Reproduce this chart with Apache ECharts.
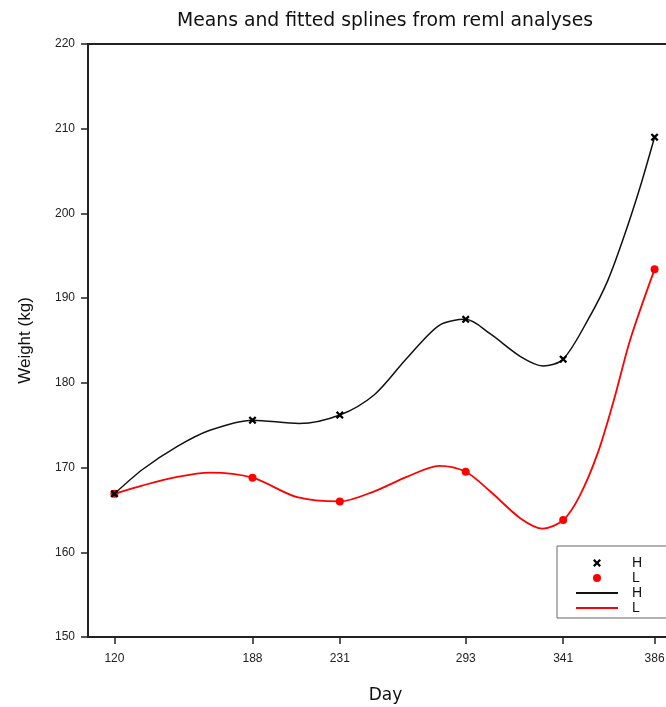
<!DOCTYPE html>
<html>
<head>
<meta charset="utf-8">
<script src="https://cdn.jsdelivr.net/npm/echarts@6/dist/echarts.min.js"></script>
<style>
html,body{margin:0;padding:0;background:#fff;}
#chart{width:666px;height:707px;}
</style>
</head>
<body>
<div id="chart"></div>
<script>
// Means (observed points)
var days = [120, 188, 231, 293, 341, 386];
var hMeans = [166.9, 175.6, 176.2, 187.5, 182.8, 209.0];
var lMeans = [166.9, 168.8, 166.0, 169.5, 163.8, 193.4];

// Fitted spline curves
var hSplineDays = [120, 134, 151, 167, 188, 211, 231, 248, 264, 280, 293, 305, 320, 331, 341, 354, 363, 371, 379, 386];
var hSplineWeights = [166.9, 169.8, 172.5, 174.4, 175.6, 175.2, 176.2, 178.6, 182.9, 186.8, 187.5, 185.8, 183.1, 182.0, 182.8, 187.8, 192.1, 197.3, 203.2, 209.0];
var lSplineDays = [120, 134, 151, 167, 188, 210, 231, 248, 264, 280, 293, 305, 320, 331, 341, 349, 358, 366, 374, 386];
var lSplineWeights = [166.9, 167.9, 168.9, 169.4, 168.8, 166.5, 166.0, 167.2, 168.9, 170.2, 169.5, 167.2, 164.0, 162.8, 163.8, 166.6, 171.7, 178.0, 185.1, 193.4];

// Tick labels
var xTickDays = [120, 188, 231, 293, 341, 386];
var yTicks = [150, 160, 170, 180, 190, 200, 210, 220];

function pairs(xs, ys) {
  return xs.map(function (x, i) { return [x, ys[i]]; });
}

var FONT = "'Liberation Sans', Arial, sans-serif";
var WIDE = "'DejaVu Sans', 'Liberation Sans', sans-serif";
var crossPath = 'path://M0,2L2,0L5,3L8,0L10,2L7,5L10,8L8,10L5,7L2,10L0,8L3,5Z';

var chart = echarts.init(document.getElementById('chart'), null, {renderer: 'canvas'});
chart.setOption({
  animation: false,
  backgroundColor: '#fff',
  title: {
    text: 'Means and fitted splines from reml analyses',
    left: 172,
    top: 7,
    textStyle: {fontFamily: WIDE, fontSize: 18.8, fontWeight: 'normal', color: '#111'}
  },
  grid: {
    left: 88, top: 44, width: 595, height: 593,
    outerBoundsMode: 'none',
    containLabel: false,
    show: true, borderColor: '#222', borderWidth: 2, backgroundColor: 'transparent'
  },
  legend: {
    orient: 'vertical',
    left: 557,
    top: 546,
    padding: [10, 60, 3, 18],
    itemGap: 1,
    itemWidth: 42,
    itemHeight: 8,
    borderColor: '#666',
    borderWidth: 1,
    backgroundColor: '#fff',
    textStyle: {fontFamily: FONT, fontSize: 14, color: '#111', padding: [0, 0, 0, 9], lineHeight: 13.5},
    data: [
      {name: 'H'},
      {name: 'L'},
      {name: 'H ', itemStyle: {opacity: 0}},
      {name: 'L ', itemStyle: {opacity: 0}}
    ]
  },
  xAxis: {
    type: 'value',
    min: 107,
    max: 400,
    name: 'Day',
    nameLocation: 'middle',
    nameGap: 50,
    nameTextStyle: {fontFamily: WIDE, fontSize: 17, color: '#111'},
    axisLine: {show: true, onZero: false, lineStyle: {color: '#222', width: 2}},
    axisTick: {show: true, inside: false, length: 7, customValues: xTickDays, lineStyle: {color: '#222', width: 1.5}},
    axisLabel: {customValues: xTickDays, margin: 16, fontFamily: FONT, fontSize: 12, color: '#222'},
    splitLine: {show: false}
  },
  yAxis: {
    type: 'value',
    min: 150,
    max: 220,
    interval: 10,
    name: 'Weight (kg)',
    nameLocation: 'middle',
    nameGap: 54,
    nameTextStyle: {fontFamily: FONT, fontSize: 17, color: '#111'},
    axisLine: {show: true, lineStyle: {color: '#222', width: 2}},
    axisTick: {show: true, inside: false, length: 7, lineStyle: {color: '#222', width: 1.5}},
    axisLabel: {
      margin: 13, fontFamily: FONT, fontSize: 12, color: '#222',
      formatter: function (v) { return yTicks.indexOf(v) >= 0 ? String(v) : ''; }
    },
    splitLine: {show: false}
  },
  series: [
    {
      name: 'H ',
      type: 'line',
      data: pairs(hSplineDays, hSplineWeights),
      smooth: 0.3,
      symbol: 'none',
      lineStyle: {color: '#111', width: 1.5},
      itemStyle: {color: '#111'},
      z: 2
    },
    {
      name: 'L ',
      type: 'line',
      data: pairs(lSplineDays, lSplineWeights),
      smooth: 0.3,
      symbol: 'none',
      lineStyle: {color: '#ff0000', width: 1.8},
      itemStyle: {color: '#ff0000'},
      z: 2
    },
    {
      name: 'H',
      type: 'scatter',
      data: pairs(days, hMeans),
      symbol: crossPath,
      symbolSize: 8,
      itemStyle: {color: '#000', opacity: 1},
      z: 4
    },
    {
      name: 'L',
      type: 'scatter',
      data: pairs(days, lMeans),
      symbol: 'circle',
      symbolSize: 8,
      itemStyle: {color: '#ff0000', opacity: 1},
      z: 3
    }
  ]
});
</script>
</body>
</html>
